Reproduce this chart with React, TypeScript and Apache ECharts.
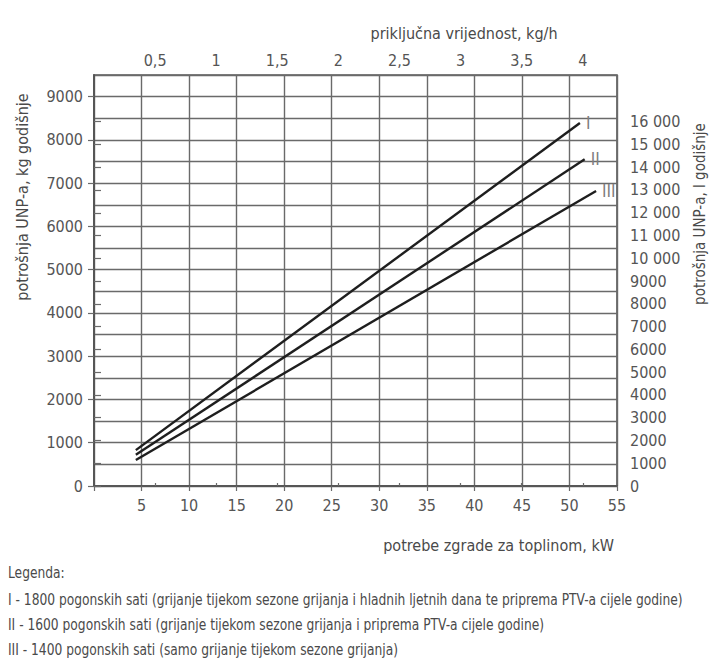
import React, { useEffect, useRef } from 'react';
import * as echarts from 'echarts';

const seriesNames = ['I', 'II', 'III'];
const lineIkW = [4.4, 51.1];
const lineIkg = [830, 8390];
const lineIIkW = [4.4, 51.6];
const lineIIkg = [720, 7550];
const lineIIIkW = [4.4, 52.8];
const lineIIIkg = [600, 6820];

const kgLabelTicks = [0, 1000, 2000, 3000, 4000, 5000, 6000, 7000, 8000, 9000];
const litreTicks = [0, 1000, 2000, 3000, 4000, 5000, 6000, 7000, 8000, 9000, 10000, 11000, 12000, 13000, 14000, 15000, 16000];
const kghTicks = [0.5, 1, 1.5, 2, 2.5, 3, 3.5, 4];

const kwMax = 55;
const kgMax = 9500;
const litreMax = 18050;
const kghMax = 4.28;

const topName = 'priključna vrijednost, kg/h';
const bottomName = 'potrebe zgrade za toplinom, kW';
const leftName = 'potrošnja UNP-a, kg godišnje';
const rightName = 'potrošnja UNP-a, l godišnje';
const legendTitle = 'Legenda:';
const legendLines = [
  'I - 1800 pogonskih sati (grijanje tijekom sezone grijanja i hladnih ljetnih dana te priprema PTV-a cijele godine)',
  'II - 1600 pogonskih sati (grijanje tijekom sezone grijanja i priprema PTV-a cijele godine)',
  'III - 1400 pogonskih sati (samo grijanje tijekom sezone grijanja)',
];

const FONT = "'Liberation Sans Narrow', 'DejaVu Sans Condensed', 'Roboto', sans-serif";
const TEXT = '#4a4a4a';
const GRID = '#6a6a6a';

function fmtLitre(v: number) {
  if (v >= 10000) return `${Math.floor(v / 1000)} ${String(v % 1000).padStart(3, '0')}`;
  return String(v);
}

export default function App() {
  const ref = useRef<HTMLDivElement>(null);
  useEffect(() => {
    if (!ref.current) return;
    const chart = echarts.init(ref.current, null, { renderer: 'svg' });
    const mk = (xs: number[], ys: number[]) => xs.map((x, i) => [x, ys[i]]);
    const datas = [mk(lineIkW, lineIkg), mk(lineIIkW, lineIIkg), mk(lineIIIkW, lineIIIkg)];
    const labelStyle = { fontFamily: FONT, fontSize: 16, color: '#555' };
    const legendStyle = { fontFamily: FONT, fontSize: 15, fill: TEXT, align: 'left', verticalAlign: 'middle' };
    chart.setOption({
      animation: false,
      backgroundColor: '#ffffff',
      grid: {
        left: 94, right: 93, top: 75, bottom: 182,
        show: true, borderColor: '#555', borderWidth: 1.6, backgroundColor: 'transparent',
      },
      xAxis: [
        {
          type: 'value', position: 'bottom', min: 0, max: kwMax, interval: 5,
          axisLine: { show: true, lineStyle: { color: '#555', width: 1.6 } },
          axisTick: { show: true, length: 5, lineStyle: { color: GRID, width: 1.2 } },
          axisLabel: { ...labelStyle, margin: 11, formatter: (v: number) => (v === 0 ? '' : String(v)) },
          splitLine: { show: true, lineStyle: { color: GRID, width: 1.4 } },
        },
        {
          type: 'value', position: 'top', min: 0, max: kghMax,
          axisLine: { show: true, lineStyle: { color: '#555', width: 1.6 } },
          axisTick: { show: true, length: 3, customValues: kghTicks, lineStyle: { color: GRID, width: 1.2 } },
          axisLabel: { ...labelStyle, margin: 7, customValues: kghTicks, formatter: (v: number) => String(v).replace('.', ',') },
          splitLine: { show: false },
        },
      ],
      yAxis: [
        {
          type: 'value', position: 'left', min: 0, max: kgMax,
          axisLine: { show: true, lineStyle: { color: '#555', width: 1.6 } },
          axisTick: { show: true, length: 6, customValues: kgLabelTicks, lineStyle: { color: GRID, width: 1.2 } },
          axisLabel: { ...labelStyle, margin: 11, customValues: kgLabelTicks, formatter: (v: number) => String(v) },
          splitLine: { show: false },
        },
        {
          type: 'value', position: 'right', min: 0, max: litreMax,
          axisLine: { show: true, lineStyle: { color: '#555', width: 1.6 } },
          axisTick: { show: true, length: 7, customValues: litreTicks, lineStyle: { color: GRID, width: 1.2 } },
          axisLabel: { ...labelStyle, margin: 13, customValues: litreTicks, formatter: (v: number) => fmtLitre(v) },
          splitLine: { show: false },
        },
        {
          type: 'value', position: 'left', min: 0, max: kgMax, interval: 500,
          axisLine: { show: false }, axisTick: { show: false }, axisLabel: { show: false },
          splitLine: { show: true, lineStyle: { color: GRID, width: 1.4 } },
        },
      ],
      series: seriesNames.map((name, i) => ({
        type: 'line', name, xAxisIndex: 0, yAxisIndex: 0, data: datas[i],
        showSymbol: false, symbol: 'none',
        lineStyle: { color: '#1e1e1e', width: 2.4 },
        endLabel: { show: true, formatter: '{a}', distance: 6, fontFamily: FONT, fontSize: 17, color: '#808080' },
        z: 5,
      })),
      graphic: [
        { type: 'text', x: 464, y: 33, style: { text: topName, fontFamily: FONT, fontSize: 16, fill: TEXT, align: 'center', verticalAlign: 'middle' } },
        { type: 'text', x: 614, y: 545, style: { text: bottomName, fontFamily: FONT, fontSize: 16, fill: TEXT, align: 'right', verticalAlign: 'middle' } },
        { type: 'text', x: 22, y: 197, rotation: Math.PI / 2, style: { text: leftName, fontFamily: FONT, fontSize: 16, fill: TEXT, align: 'center', verticalAlign: 'middle' } },
        { type: 'text', x: 700, y: 214, rotation: Math.PI / 2, style: { text: rightName, fontFamily: FONT, fontSize: 15, fill: TEXT, align: 'center', verticalAlign: 'middle' } },
        { type: 'text', x: 8, y: 573, scaleX: 0.91, style: { text: legendTitle, ...legendStyle } },
        ...legendLines.map((t, i) => ({
          type: 'text', x: 8, y: 600 + i * 25, scaleX: 0.91,
          style: { text: t, ...legendStyle },
        })),
      ],
    });
    return () => chart.dispose();
  }, []);
  return <div ref={ref} style={{ position: 'absolute', left: 0, top: 0, width: 710, height: 668 }} />;
}
